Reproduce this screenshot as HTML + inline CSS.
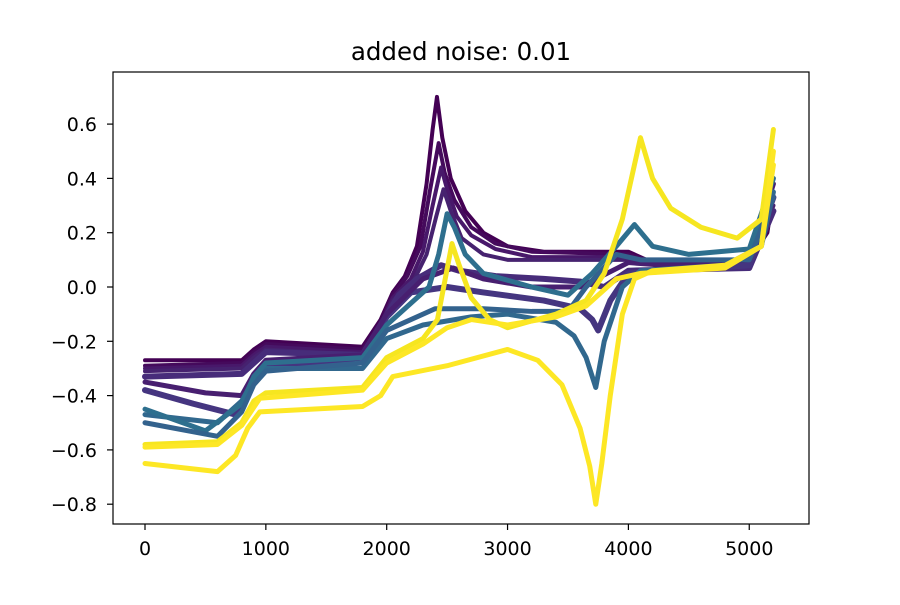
<!DOCTYPE html>
<html><head><meta charset="utf-8"><style>
body{margin:0;background:#fff;font-family:"Liberation Sans","DejaVu Sans",sans-serif}
svg text{font-family:"DejaVu Sans","Liberation Sans",sans-serif}
</style></head><body>
<svg id="chart" width="900" height="600">
<rect width="900" height="600" fill="#fff"/>
<text x="461" y="60" font-size="24.5" text-anchor="middle">added noise: 0.01</text>
<g id="marks"></g>
<rect x="113" y="72" width="696" height="452" fill="none" stroke="#000" stroke-width="1.2"/>
<g id="axes"></g>
</svg>
<script>
const xTicks=[0,1000,2000,3000,4000,5000];
const yTicks=[0.6,0.4,0.2,0.0,-0.2,-0.4,-0.6,-0.8];
const seriesNames=['p1','p2','p3','p4','p5','p6','p7','t1','t2','t3','y1','y2','y3'];
const seriesColors=['#440154','#450a5c','#48186a','#46226f','#472c7a','#453580','#481f70','#31688e','#2e6f8e','#33628d','#fde725','#f6e620','#fde725'];
const seriesWidths=[4,4,4,4,6,6,5,5,5,5,5,5,5];
const p1=[[0,-0.27],[800,-0.27],[900,-0.23],[1000,-0.20],[1800,-0.22],[1950,-0.12],[2050,-0.02],[2150,0.04],[2250,0.15],[2330,0.38],[2380,0.58],[2416,0.70],[2460,0.55],[2530,0.40],[2650,0.28],[2800,0.20],[3000,0.15],[3300,0.13],[4000,0.13],[4200,0.09],[5000,0.10],[5150,0.2],[5200,0.35]];
const p2=[[0,-0.29],[800,-0.28],[900,-0.24],[1000,-0.21],[1800,-0.23],[1950,-0.13],[2050,-0.03],[2170,0.04],[2280,0.15],[2360,0.36],[2430,0.53],[2480,0.42],[2560,0.32],[2700,0.22],[2900,0.16],[3200,0.13],[4000,0.12],[4300,0.08],[5000,0.09],[5200,0.4]];
const p3=[[0,-0.30],[800,-0.29],[900,-0.25],[1000,-0.22],[1800,-0.24],[1950,-0.14],[2050,-0.04],[2200,0.03],[2300,0.13],[2380,0.30],[2450,0.44],[2500,0.36],[2580,0.26],[2700,0.19],[2900,0.14],[3200,0.11],[4000,0.11],[4300,0.07],[5000,0.08],[5200,0.3]];
const p4=[[0,-0.31],[800,-0.30],[900,-0.26],[1000,-0.23],[1800,-0.25],[1950,-0.15],[2050,-0.05],[2220,0.02],[2330,0.12],[2410,0.26],[2470,0.36],[2530,0.28],[2620,0.18],[2800,0.12],[3000,0.10],[4000,0.10],[5000,0.08],[5200,0.3]];
const p5=[[0,-0.33],[800,-0.32],[1000,-0.24],[1800,-0.25],[1950,-0.14],[2100,-0.03],[2250,0.03],[2450,0.08],[2600,0.06],[2900,0.04],[3300,0.03],[3600,0.02],[3800,0.0],[4000,0.06],[5000,0.07],[5200,0.28]];
const p6=[[0,-0.38],[400,-0.43],[750,-0.47],[850,-0.40],[950,-0.30],[1800,-0.26],[2000,-0.11],[2200,-0.02],[2500,0.0],[2800,-0.02],[3300,-0.05],[3600,-0.08],[3700,-0.12],[3750,-0.16],[3850,-0.05],[4000,0.05],[5000,0.08],[5200,0.33]];
const p7=[[0,-0.35],[500,-0.39],[800,-0.40],[900,-0.32],[1000,-0.27],[1800,-0.25],[2000,-0.10],[2300,0.03],[2550,0.07],[2800,0.03],[3200,0.0],[3600,0.0],[4000,0.09],[4300,0.08],[5000,0.1],[5200,0.38]];
const t1=[[0,-0.47],[600,-0.50],[800,-0.42],[900,-0.34],[1000,-0.30],[1800,-0.30],[2000,-0.19],[2300,-0.14],[2700,-0.11],[3000,-0.10],[3400,-0.13],[3550,-0.18],[3650,-0.26],[3730,-0.37],[3800,-0.20],[3950,0.0],[4100,0.06],[4800,0.08],[5100,0.15],[5200,0.35]];
const t2=[[0,-0.45],[500,-0.53],[800,-0.43],[900,-0.33],[1000,-0.28],[1800,-0.26],[2000,-0.14],[2200,-0.06],[2350,0.0],[2430,0.12],[2500,0.27],[2560,0.22],[2650,0.12],[2800,0.05],[3200,0.0],[3500,-0.03],[3700,0.05],[3900,0.15],[4050,0.23],[4200,0.15],[4500,0.12],[5000,0.14],[5200,0.40]];
const t3=[[0,-0.50],[600,-0.55],[800,-0.46],[900,-0.36],[1000,-0.31],[1800,-0.28],[2000,-0.16],[2400,-0.08],[2800,-0.08],[3200,-0.09],[3500,-0.09],[3650,0.0],[3900,0.12],[4100,0.1],[5000,0.1],[5200,0.33]];
const y1=[[0,-0.65],[600,-0.68],[750,-0.62],[850,-0.52],[950,-0.46],[1800,-0.44],[1950,-0.40],[2050,-0.33],[2500,-0.29],[3000,-0.23],[3250,-0.27],[3450,-0.36],[3600,-0.52],[3680,-0.66],[3730,-0.80],[3780,-0.65],[3850,-0.40],[3950,-0.10],[4050,0.03],[4200,0.06],[4800,0.08],[5100,0.15],[5200,0.45]];
const y2=[[0,-0.58],[600,-0.57],[800,-0.50],[900,-0.42],[1000,-0.39],[1800,-0.37],[2000,-0.26],[2300,-0.19],[2420,-0.12],[2480,0.02],[2540,0.16],[2600,0.08],[2700,-0.04],[2850,-0.12],[3000,-0.15],[3400,-0.10],[3650,-0.05],[3800,0.05],[3950,0.25],[4050,0.45],[4100,0.55],[4200,0.40],[4350,0.29],[4600,0.22],[4900,0.18],[5100,0.25],[5200,0.58]];
const y3=[[0,-0.59],[600,-0.58],[800,-0.51],[950,-0.41],[1800,-0.38],[2000,-0.28],[2300,-0.21],[2500,-0.15],[2700,-0.12],[3000,-0.14],[3400,-0.11],[3650,-0.07],[3900,0.03],[4100,0.05],[4800,0.07],[5100,0.15],[5200,0.5]];
const seriesData=[p1,p2,p3,p4,p5,p6,p7,t1,t2,t3,y1,y2,y3];
const X=v=>145+v*0.12085;
const Y=v=>287-v*271.5;
const NS='http://www.w3.org/2000/svg';
const marks=document.getElementById('marks');
seriesData.forEach((s,i)=>{
  const pl=document.createElementNS(NS,'polyline');
  pl.setAttribute('points',s.map(p=>X(p[0])+','+Y(p[1])).join(' '));
  pl.setAttribute('fill','none');
  pl.setAttribute('stroke',seriesColors[i]);
  pl.setAttribute('stroke-width',seriesWidths[i]);
  pl.setAttribute('stroke-linejoin','round');
  pl.setAttribute('stroke-linecap','round');
  
  
  marks.appendChild(pl);
});
const axes=document.getElementById('axes');
xTicks.forEach(t=>{
  const l=document.createElementNS(NS,'line');
  l.setAttribute('x1',X(t));l.setAttribute('x2',X(t));l.setAttribute('y1',524);l.setAttribute('y2',530);l.setAttribute('stroke','#000');l.setAttribute('stroke-width','1.2');
  
  
  axes.appendChild(l);
  const tx=document.createElementNS(NS,'text');
  tx.setAttribute('x',X(t));tx.setAttribute('y',555);tx.setAttribute('font-size','19');tx.setAttribute('text-anchor','middle');
  tx.textContent=t;
  
  
  axes.appendChild(tx);
});
yTicks.forEach(t=>{
  const l=document.createElementNS(NS,'line');
  l.setAttribute('x1',107);l.setAttribute('x2',113);l.setAttribute('y1',Y(t));l.setAttribute('y2',Y(t));l.setAttribute('stroke','#000');l.setAttribute('stroke-width','1.2');
  
  
  axes.appendChild(l);
  const tx=document.createElementNS(NS,'text');
  tx.setAttribute('x',97);tx.setAttribute('y',Y(t)+7);tx.setAttribute('font-size','19');tx.setAttribute('text-anchor','end');
  tx.textContent=(t<0?'\u2212':'')+Math.abs(t).toFixed(1);
  
  
  axes.appendChild(tx);
});
</script>
</body></html>
